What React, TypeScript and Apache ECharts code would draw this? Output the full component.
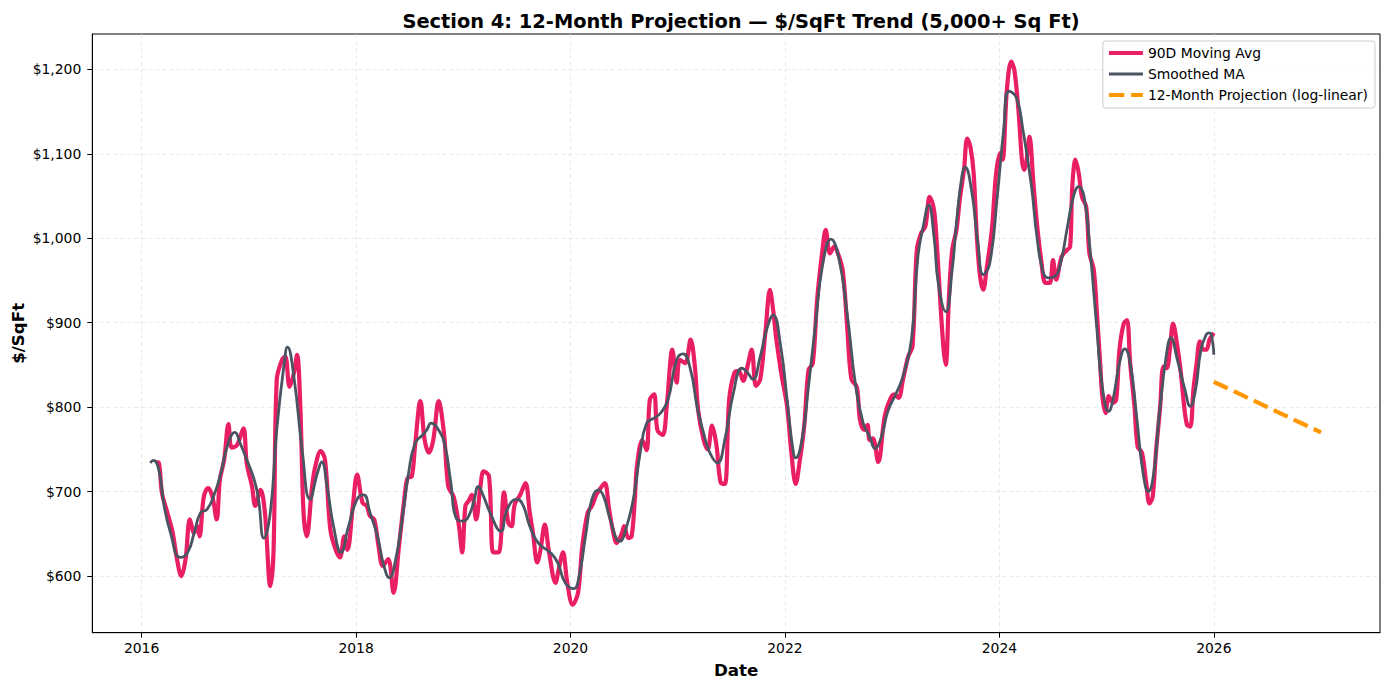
import React, { useEffect, useRef } from "react";
import * as echarts from "echarts";

const maYears = [
  2016.13, 2016.16, 2016.19, 2016.24, 2016.29, 2016.33, 2016.37, 2016.41, 2016.45, 2016.49, 2016.52, 2016.54, 2016.58, 2016.62, 2016.66, 2016.70, 2016.73, 2016.77, 2016.81, 2016.84, 2016.89, 2016.95, 2016.98,
  2017.03, 2017.06, 2017.11, 2017.15, 2017.20, 2017.23, 2017.26, 2017.31, 2017.34, 2017.38, 2017.42, 2017.45, 2017.48, 2017.51, 2017.54, 2017.59, 2017.62, 2017.67, 2017.71, 2017.76, 2017.81, 2017.85, 2017.89, 2017.92, 2017.97,
  2018.01, 2018.06, 2018.10, 2018.13, 2018.17, 2018.21, 2018.25, 2018.30, 2018.35, 2018.40, 2018.45, 2018.48, 2018.52, 2018.55, 2018.60, 2018.64, 2018.68, 2018.72, 2018.77, 2018.82, 2018.86, 2018.91, 2018.96, 2018.99,
  2019.02, 2019.05, 2019.08, 2019.12, 2019.16, 2019.19, 2019.24, 2019.28, 2019.33, 2019.38, 2019.42, 2019.45, 2019.48, 2019.53, 2019.58, 2019.62, 2019.65, 2019.69, 2019.72, 2019.76, 2019.80, 2019.86, 2019.89, 2019.93, 2019.97,
  2020.02, 2020.07, 2020.11, 2020.16, 2020.20, 2020.24, 2020.28, 2020.32, 2020.36, 2020.40, 2020.43, 2020.48, 2020.50, 2020.54, 2020.57, 2020.60, 2020.62, 2020.67, 2020.71, 2020.74, 2020.78, 2020.81, 2020.86, 2020.90, 2020.95, 2020.99,
  2021.02, 2021.07, 2021.12, 2021.16, 2021.19, 2021.24, 2021.28, 2021.32, 2021.36, 2021.40, 2021.44, 2021.48, 2021.53, 2021.57, 2021.61, 2021.65, 2021.69, 2021.73, 2021.77, 2021.82, 2021.86, 2021.89, 2021.92, 2021.97,
  2022.02, 2022.06, 2022.10, 2022.14, 2022.18, 2022.22, 2022.26, 2022.30, 2022.35, 2022.38, 2022.42, 2022.46, 2022.50, 2022.54, 2022.58, 2022.62, 2022.67, 2022.70, 2022.74, 2022.77, 2022.79, 2022.82, 2022.87, 2022.93, 2022.98,
  2023.02, 2023.06, 2023.10, 2023.15, 2023.19, 2023.23, 2023.27, 2023.31, 2023.35, 2023.39, 2023.42, 2023.45, 2023.48, 2023.50, 2023.53, 2023.56, 2023.60, 2023.63, 2023.67, 2023.70, 2023.73, 2023.76, 2023.79, 2023.82, 2023.85, 2023.88, 2023.93, 2023.97,
  2024.01, 2024.03, 2024.07, 2024.11, 2024.14, 2024.18, 2024.21, 2024.23, 2024.25, 2024.28, 2024.32, 2024.35, 2024.39, 2024.43, 2024.47, 2024.50, 2024.53, 2024.58, 2024.63, 2024.66, 2024.68, 2024.71, 2024.74, 2024.77, 2024.81, 2024.84, 2024.88, 2024.91, 2024.94, 2024.96, 2024.99,
  2025.02, 2025.06, 2025.09, 2025.12, 2025.16, 2025.19, 2025.22, 2025.26, 2025.29, 2025.33, 2025.37, 2025.40, 2025.43, 2025.46, 2025.50, 2025.53, 2025.56, 2025.59, 2025.62, 2025.66, 2025.69, 2025.72, 2025.75, 2025.78, 2025.81, 2025.84, 2025.87, 2025.90, 2025.93, 2025.96, 2025.98, 2026.00,
];
const maValues = [
  735, 734, 698, 675, 651, 620, 600, 620, 667, 651, 659, 647, 694, 704, 694, 667, 714, 738, 780, 752, 755, 775, 734,
  706, 683, 702, 675, 588, 628, 832, 856, 860, 824, 840, 862, 801, 675, 647, 706, 730, 748, 738, 655, 631, 622, 647, 631, 683,
  720, 687, 683, 671, 667, 635, 612, 620, 580, 635, 691, 716, 718, 754, 807, 761, 746, 761, 807, 769, 706, 694, 659, 628,
  683, 689, 696, 667, 706, 724, 718, 628, 628, 699, 663, 659, 685, 696, 710, 675, 651, 616, 631, 661, 628, 592, 608, 628, 592,
  566, 580, 635, 675, 683, 696, 704, 710, 679, 651, 639, 651, 659, 645, 647, 691, 730, 761, 749, 809, 815, 773, 767, 805, 868, 829,
  856, 852, 880, 848, 797, 762, 750, 778, 756, 711, 709, 809, 841, 843, 831, 848, 868, 825, 833, 892, 939, 915, 880, 837,
  801, 746, 709, 738, 778, 844, 852, 927, 986, 1010, 982, 990, 980, 961, 896, 833, 824, 785, 773, 779, 761, 763, 735, 789, 809,
  815, 811, 832, 860, 872, 986, 1006, 1014, 1049, 1034, 986, 923, 868, 850, 931, 986, 1010, 1045, 1081, 1118, 1108, 1077, 1002, 955, 939, 963, 1010, 1077,
  1101, 1093, 1176, 1209, 1199, 1148, 1093, 1081, 1089, 1120, 1061, 1018, 974, 947, 947, 974, 951, 978, 986, 990, 1061, 1093, 1077, 1049, 1037, 982, 963, 911, 852, 813, 793,
  813, 805, 809, 868, 899, 903, 852, 801, 753, 746, 710, 686, 694, 746, 801, 848, 846, 868, 899, 872, 844, 805, 779, 777, 821, 852, 878, 868, 868, 880, 884, 888,
];

const smoothYears = [
  2016.08, 2016.11, 2016.16, 2016.21, 2016.27, 2016.36, 2016.43, 2016.49, 2016.55, 2016.61, 2016.67, 2016.74, 2016.80, 2016.87, 2016.92, 2016.98,
  2017.05, 2017.09, 2017.14, 2017.20, 2017.26, 2017.33, 2017.36, 2017.42, 2017.50, 2017.57, 2017.64, 2017.68, 2017.73, 2017.79, 2017.86, 2017.93,
  2018.01, 2018.07, 2018.13, 2018.20, 2018.26, 2018.31, 2018.37, 2018.43, 2018.49, 2018.55, 2018.62, 2018.66, 2018.70, 2018.77, 2018.83, 2018.88, 2018.94,
  2019.00, 2019.05, 2019.10, 2019.14, 2019.19, 2019.25, 2019.35, 2019.41, 2019.50, 2019.56, 2019.62, 2019.70, 2019.81, 2019.88, 2019.95,
  2020.03, 2020.08, 2020.14, 2020.20, 2020.26, 2020.31, 2020.37, 2020.46, 2020.52, 2020.59, 2020.65, 2020.71, 2020.78, 2020.84, 2020.91, 2020.99,
  2021.05, 2021.12, 2021.18, 2021.24, 2021.30, 2021.37, 2021.44, 2021.52, 2021.60, 2021.65, 2021.70, 2021.77, 2021.83, 2021.89, 2021.96,
  2022.02, 2022.07, 2022.10, 2022.16, 2022.22, 2022.29, 2022.35, 2022.43, 2022.50, 2022.58, 2022.66, 2022.73, 2022.79, 2022.84, 2022.90, 2022.96,
  2023.04, 2023.10, 2023.18, 2023.24, 2023.29, 2023.34, 2023.39, 2023.43, 2023.50, 2023.56, 2023.60, 2023.65, 2023.68, 2023.74, 2023.80, 2023.85, 2023.91, 2023.98,
  2024.04, 2024.09, 2024.16, 2024.22, 2024.30, 2024.35, 2024.41, 2024.46, 2024.52, 2024.57, 2024.63, 2024.69, 2024.74, 2024.79, 2024.84, 2024.91, 2024.96,
  2025.02, 2025.06, 2025.12, 2025.17, 2025.22, 2025.28, 2025.34, 2025.39, 2025.44, 2025.49, 2025.56, 2025.60, 2025.66, 2025.73, 2025.78, 2025.83, 2025.88, 2025.93, 2025.96, 2025.99, 2026.00,
];
const smoothValues = [
  734, 737, 726, 683, 651, 622, 628, 651, 675, 679, 694, 722, 754, 770, 757, 738,
  714, 691, 645, 675, 773, 852, 871, 836, 746, 691, 722, 735, 706, 659, 628, 659,
  691, 696, 675, 647, 612, 598, 620, 667, 722, 757, 767, 773, 781, 773, 754, 714, 667,
  665, 671, 689, 706, 694, 675, 653, 679, 691, 683, 659, 639, 628, 616, 592,
  585, 600, 647, 691, 702, 694, 667, 641, 657, 694, 746, 781, 787, 793, 809, 856,
  863, 844, 801, 770, 746, 734, 762, 817, 846, 841, 833, 860, 892, 909, 872,
  809, 754, 740, 762, 825, 904, 967, 999, 978, 911, 825, 781, 765, 751, 765, 795,
  817, 836, 880, 978, 1014, 1039, 1002, 947, 913, 963, 1018, 1073, 1084, 1057, 994, 957, 970, 1049,
  1128, 1174, 1166, 1128, 1061, 1002, 959, 953, 955, 970, 1010, 1049, 1061, 1049, 994, 892, 824,
  795, 809, 852, 869, 852, 789, 722, 700, 722, 789, 864, 882, 856, 821, 801, 821, 868, 886, 888, 876, 862,
];

const projYears = [2026.0, 2026.083, 2026.167, 2026.25, 2026.333, 2026.417, 2026.5, 2026.583, 2026.667, 2026.75, 2026.833, 2026.917, 2027.0];
const projValues = [830, 825, 820, 815, 810, 805, 800, 795, 790, 785, 780, 775, 770];

const xTicks = [2016, 2018, 2020, 2022, 2024, 2026];
const yTicks = [600, 700, 800, 900, 1000, 1100, 1200];

const FONT = "DejaVu Sans";
const PINK = "#E91E63";
const GRAY = "#4A5563";
const ORANGE = "#FF9800";

function zip(xs: number[], ys: number[]) {
  return xs.map((x, i) => [x, ys[i]]);
}

export default function App() {
  const ref = useRef<HTMLDivElement>(null);
  useEffect(() => {
    if (!ref.current) return;
    const chart = echarts.init(ref.current, null, { renderer: "svg" });
    const gridLine = { show: true, lineStyle: { color: "#e3e3e3", width: 0.8, type: [4, 3] } };
    const hidden = { opacity: 0, borderWidth: 0 };
    chart.setOption({
      animation: false,
      backgroundColor: "#ffffff",
      title: {
        text: "Section 4: 12-Month Projection — $/SqFt Trend (5,000+ Sq Ft)",
        left: 736,
        top: 7,
        textAlign: "center",
        textStyle: { fontFamily: FONT, fontSize: 19.4, fontWeight: "bold", color: "#000" },
      },
      legend: {
        orient: "vertical",
        right: 14,
        top: 41,
        itemWidth: 34,
        itemHeight: 14,
        itemGap: 7,
        padding: [5, 7, 6, 4],
        backgroundColor: "rgba(255,255,255,0.85)",
        borderColor: "#cccccc",
        borderWidth: 1,
        borderRadius: 3,
        textStyle: { fontFamily: FONT, fontSize: 13.9, color: "#000" },
        data: [
          { name: "90D Moving Avg", itemStyle: hidden, lineStyle: { color: PINK, width: 4.2 } },
          { name: "Smoothed MA", itemStyle: hidden, lineStyle: { color: GRAY, width: 2.8 } },
          {
            name: "12-Month Projection (log-linear)",
            itemStyle: hidden,
            lineStyle: { color: ORANGE, width: 4.2, type: [15.4, 6.7] },
          },
        ],
      },
      grid: {
        left: 92.3,
        right: 9,
        top: 34,
        bottom: 57.3,
        show: true,
        borderColor: "#000",
        borderWidth: 1,
        containLabel: false,
        outerBoundsMode: "none",
      },
      xAxis: {
        type: "value",
        min: 2015.54,
        max: 2027.55,
        name: "Date",
        nameLocation: "middle",
        nameGap: 29,
        nameMoveOverlap: false,
        nameTextStyle: { fontFamily: FONT, fontSize: 16.7, fontWeight: "bold", color: "#000" },
        axisLine: { show: true, lineStyle: { color: "#000", width: 1 } },
        axisTick: { show: true, length: 5, lineStyle: { color: "#000" }, customValues: xTicks },
        axisLabel: {
          margin: 8,
          fontFamily: FONT,
          fontSize: 13.9,
          color: "#000",
          customValues: xTicks,
          formatter: (v: number) => String(Math.round(v)),
        },
        splitLine: gridLine,
      },
      yAxis: {
        type: "value",
        min: 532.9,
        max: 1241.8,
        name: "$/SqFt",
        nameLocation: "middle",
        nameRotate: 90,
        nameGap: 66,
        nameMoveOverlap: false,
        nameTextStyle: { fontFamily: FONT, fontSize: 16.7, fontWeight: "bold", color: "#000" },
        axisLine: { show: true, lineStyle: { color: "#000", width: 1 } },
        axisTick: { show: true, length: 5, lineStyle: { color: "#000" }, customValues: yTicks },
        axisLabel: {
          margin: 11,
          fontFamily: FONT,
          fontSize: 13.9,
          color: "#000",
          customValues: yTicks,
          formatter: (v: number) => "$" + Math.round(v).toLocaleString("en-US"),
        },
        splitLine: gridLine,
      },
      series: [
        {
          name: "90D Moving Avg",
          type: "line",
          data: zip(maYears, maValues),
          showSymbol: false,
          symbol: "none",
          smooth: 0.35,
          lineStyle: { color: PINK, width: 4.2 },
          itemStyle: { color: PINK },
          z: 2,
        },
        {
          name: "Smoothed MA",
          type: "line",
          data: zip(smoothYears, smoothValues),
          showSymbol: false,
          symbol: "none",
          smooth: 0.5,
          lineStyle: { color: GRAY, width: 2.8 },
          itemStyle: { color: GRAY },
          z: 3,
        },
        {
          name: "12-Month Projection (log-linear)",
          type: "line",
          data: zip(projYears, projValues),
          showSymbol: false,
          symbol: "none",
          lineStyle: { color: ORANGE, width: 4.2, type: [15.4, 6.7] },
          itemStyle: { color: ORANGE },
          z: 4,
        },
      ],
    });
    return () => chart.dispose();
  }, []);
  return (
    <div
      ref={ref}
      style={{ position: "fixed", left: 0, top: 0, width: "1389px", height: "690px", background: "#fff" }}
    />
  );
}
